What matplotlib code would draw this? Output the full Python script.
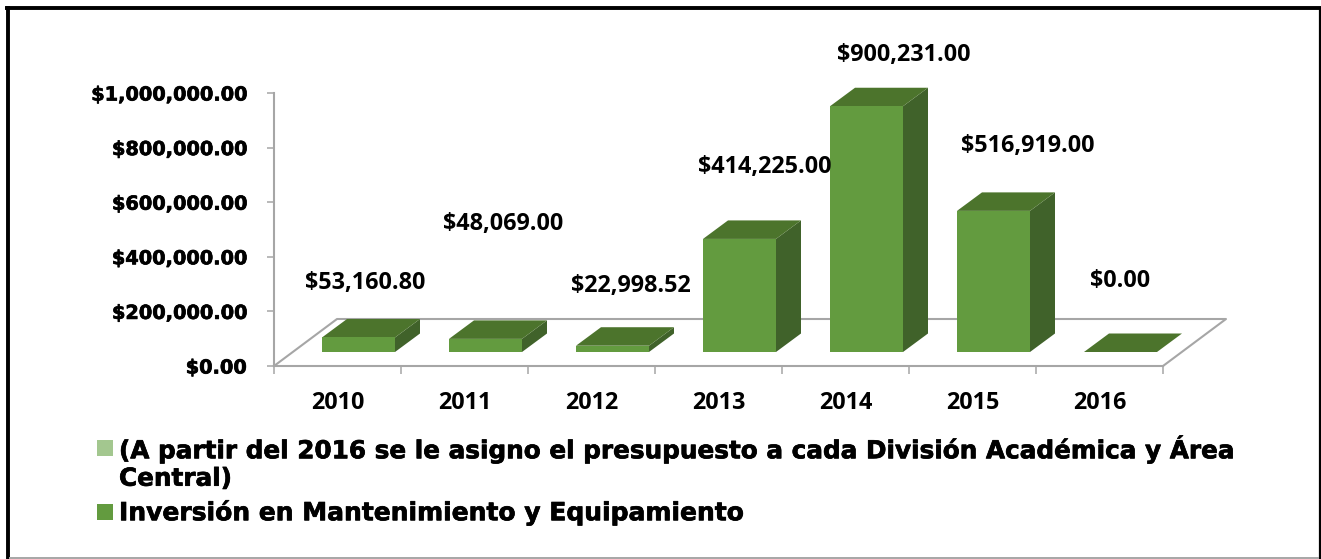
import matplotlib
matplotlib.use("Agg")
import matplotlib.pyplot as plt
import matplotlib.patheffects as pe
from matplotlib.lines import Line2D
from matplotlib.patches import Polygon, Rectangle
from matplotlib.ticker import FuncFormatter

years = ["2010", "2011", "2012", "2013", "2014", "2015", "2016"]
inversion = [53160.80, 48069.00, 22998.52, 414225.00, 900231.00, 516919.00, 0.00]
value_labels = ["$53,160.80", "$48,069.00", "$22,998.52", "$414,225.00",
                "$900,231.00", "$516,919.00", "$0.00"]
y_ticks = [0, 200000, 400000, 600000, 800000, 1000000]
legend_labels = ["(A partir del 2016 se le asigno el presupuesto a cada División Académica y Área\nCentral)",
                 "Inversión en Mantenimiento y Equipamiento"]

W, H = 1321, 559
# label offsets from the bar's category position, in pixels
label_offsets = [(28, 68), (39, 129), (39, 74), (46, 86), (58, 65), (55, 79), (21, 85)]

FRONT = "#639B3F"
TOP = "#4C742C"
SIDE = "#40622A"
GRID = "#A6A6A6"
HEAVY = [pe.withStroke(linewidth=0.5, foreground="black")]

fig = plt.figure(figsize=(W / 100, H / 100), dpi=100, facecolor="white")
ax = fig.add_axes([274 / W, (H - 366) / H, 889 / W, 273 / H], facecolor="none")
ax.set_xlim(0, 7)
ax.set_ylim(0, 1000000)

# pixels to data units
px_x = 7 / 889
px_y = 1000000 / 273


def draw_floor():
    dx, dy = 63 * px_x, 47 * px_y
    ax.plot([0, dx, 7 + dx, 7], [0, dy, dy, 0], color=GRID, lw=1.5, clip_on=False, zorder=1)


def draw_bar(i, v):
    w = 73 * px_x
    x0 = i + 0.5 + 21 * px_x - w / 2
    x1 = x0 + w
    y0 = 14 * px_y
    y1 = y0 + v
    dx, dy = 25 * px_x, 18.5 * px_y
    if v > 0:
        ax.add_patch(Polygon([(x1, y0), (x1 + dx, y0 + dy), (x1 + dx, y1 + dy), (x1, y1)],
                             fc=SIDE, ec="none", clip_on=False, zorder=3))
        ax.add_patch(Rectangle((x0, y0), w, v, fc=FRONT, ec="none", clip_on=False, zorder=4))
    ax.add_patch(Polygon([(x0, y1), (x1, y1), (x1 + dx, y1 + dy), (x0 + dx, y1 + dy)],
                         fc=TOP, ec="none", clip_on=False, zorder=3))


draw_floor()
for i, v in enumerate(inversion):
    draw_bar(i, v)
    ax.annotate(value_labels[i], (i + 0.5, v), xycoords="data",
                xytext=label_offsets[i], textcoords="offset pixels",
                ha="center", va="center", fontsize=16.8, fontweight="bold",
                family="Open Sans", color="black", annotation_clip=False, zorder=6)

for s in ["top", "right"]:
    ax.spines[s].set_visible(False)
for s in ["left", "bottom"]:
    ax.spines[s].set_color(GRID)
    ax.spines[s].set_linewidth(1.5)
    ax.spines[s].set_zorder(2)

ax.set_yticks(y_ticks)
ax.yaxis.set_major_formatter(FuncFormatter(lambda v, p: "${:,.2f}".format(v)))
ax.tick_params(axis="y", length=5, width=1.1, color=GRID, pad=15)
for t in ax.get_yticklabels():
    t.set_fontsize(13.9)
    t.set_fontweight("bold")
    t.set_family("DejaVu Sans")
    t.set_path_effects(HEAVY)

ax.set_xticks(range(8))
ax.set_xticklabels([])
ax.set_xticks([i + 0.5 for i in range(7)], minor=True)
ax.set_xticklabels(years, minor=True)
ax.tick_params(axis="x", which="major", length=6, width=1.1, color=GRID)
ax.tick_params(axis="x", which="minor", length=0, pad=18)
for t in ax.get_xticklabels(minor=True):
    t.set_fontsize(16.8)
    t.set_fontweight("bold")
    t.set_family("Open Sans")

# legend, drawn by hand because of the wrapped first entry
for y, c in [(448, "#A3C78F"), (512, FRONT)]:
    fig.add_artist(Rectangle((97 / W, 1 - (y + 8) / H), 16 / W, 16 / H, fc=c, ec="none",
                             transform=fig.transFigure))
fig.text(119 / W, 1 - 463 / H, legend_labels[0], fontsize=17.8, fontweight="bold", family="DejaVu Sans",
         va="center", ha="left", linespacing=1.18, path_effects=HEAVY)
fig.text(119 / W, 1 - 512.5 / H, legend_labels[1], fontsize=18.0, fontweight="bold", family="DejaVu Sans",
         va="center", ha="left", path_effects=HEAVY)


# outer frame, uneven like the pasted original
def frame_line(x0, y0, x1, y1, c, lw):
    fig.add_artist(Line2D([x0 / W, x1 / W], [1 - y0 / H, 1 - y1 / H], color=c, lw=lw,
                          solid_capstyle="butt", transform=fig.transFigure))


frame_line(5, 8, 1321, 8, "black", 2.8)
frame_line(7.5, 6, 7.5, 559, "black", 2.8)
frame_line(1319.5, 8, 1319.5, 559, "black", 1.6)
frame_line(9, 558, 1319, 558, GRID, 1.4)

fig.savefig("out.png", dpi=100)
